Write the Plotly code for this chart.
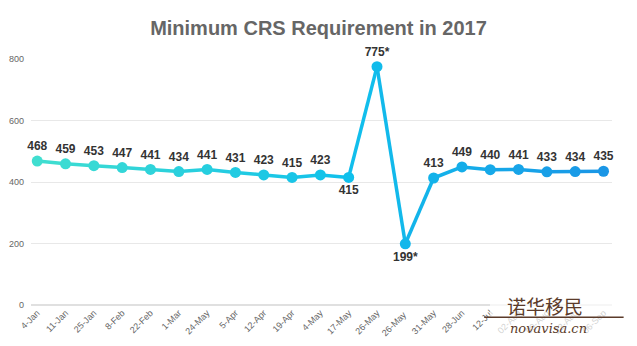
import plotly.graph_objects as go

dates = ["4-Jan", "11-Jan", "25-Jan", "8-Feb", "22-Feb", "1-Mar", "24-May", "5-Apr",
         "12-Apr", "19-Apr", "4-May", "17-May", "26-May", "26-May ", "31-May", "28-Jun",
         "12-Jul", "02-Aug", "09-Aug", "23-Aug", "06-Sep"]
scores = [468, 459, 453, 447, 441, 434, 441, 431, 423, 415, 423, 415, 775, 199, 413, 449,
          440, 441, 433, 434, 435]
labels = ["468", "459", "453", "447", "441", "434", "441", "431", "423", "415", "423", "415",
          "775*", "199*", "413", "449", "440", "441", "433", "434", "435"]
label_pos = ["top center"] * 21
label_pos[11] = "bottom center"
label_pos[13] = "bottom center"

stops = [(0.0, (64, 222, 208)), (0.55, (16, 192, 236)), (1.0, (26, 150, 230))]


def grad(t):
    for (t0, c0), (t1, c1) in zip(stops[:-1], stops[1:]):
        if t <= t1:
            f = (t - t0) / (t1 - t0) if t1 > t0 else 0
            return "rgb(%d,%d,%d)" % tuple(round(a + (b - a) * f) for a, b in zip(c0, c1))
    return "rgb(%d,%d,%d)" % stops[-1][1]


n = len(scores)
fig = go.Figure()
for i in range(n - 1):
    fig.add_trace(go.Scatter(x=dates[i:i + 2], y=scores[i:i + 2], mode="lines",
                             line=dict(color=grad((i + 0.5) / (n - 1)), width=3.5),
                             hoverinfo="skip", showlegend=False, cliponaxis=False))
fig.add_trace(go.Scatter(x=dates, y=scores, mode="markers+text",
                         marker=dict(size=11, color=[grad(i / (n - 1)) for i in range(n)]),
                         text=labels, textposition=label_pos, cliponaxis=False,
                         textfont=dict(family="Liberation Sans", size=12, color="#333333",
                                       weight="bold"),
                         showlegend=False))

fig.update_layout(
    width=637, height=346,
    margin=dict(l=31, r=25, t=59, b=41),
    paper_bgcolor="white", plot_bgcolor="white",
    title=dict(text="<b>Minimum CRS Requirement in 2017</b>", x=0.5, xanchor="center",
               y=0.92, yanchor="middle",
               font=dict(family="Liberation Sans", size=20, color="#666666")),
    xaxis=dict(type="category", range=[-0.22, 20.3], tickangle=-45, showgrid=False,
               showline=False, zeroline=False, ticks="", automargin=False,
               tickfont=dict(family="Liberation Sans", size=9, color="#666666")),
    yaxis=dict(range=[0, 800], tickvals=[0, 200, 400, 600, 800], showgrid=True,
               gridcolor="#e8e8e8", gridwidth=1, zeroline=True, zerolinecolor="#e0e0e0",
               showline=False, ticks="", ticklabelstandoff=6, automargin=False,
               tickfont=dict(family="Liberation Sans", size=9, color="#666666")),
)

# watermark
fig.add_shape(type="rect", xref="paper", yref="paper", x0=0.79, x1=1.02, y0=-0.17, y1=0.03,
              fillcolor="rgba(255,255,255,0.7)", line_width=0, layer="above")
fig.add_annotation(text="诺华移民", xref="paper", yref="paper", x=0.885, y=0.0,
                   showarrow=False, xanchor="center", yanchor="middle",
                   font=dict(family="Noto Sans CJK SC", size=19, color="#5b3b2a"))
fig.add_shape(type="line", xref="paper", yref="paper", x0=0.78, x1=1.02, y0=-0.05, y1=-0.05,
              line=dict(color="#5b3b2a", width=1.5), layer="above")
fig.add_annotation(text="novavisa.cn", xref="paper", yref="paper", x=0.89, y=-0.095,
                   showarrow=False, xanchor="center", yanchor="middle",
                   font=dict(family="DejaVu Serif", size=13, color="#5b3b2a", style="italic"))

fig.write_html("out.html")
